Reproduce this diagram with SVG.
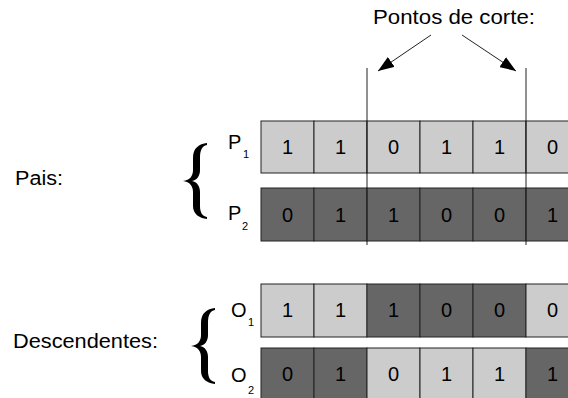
<svg xmlns="http://www.w3.org/2000/svg" width="568" height="398" viewBox="0 0 568 398">
  <style>
    text { font-family: "Liberation Sans", Arial, sans-serif; fill: #000; }
    .lbl { font-size: 20px; }
    .bit { font-size: 20px; text-anchor: middle; }
    .sub { font-size: 11px; }
    .light { fill: #cccccc; stroke: #222; stroke-width: 1; }
    .dark { fill: #666666; stroke: #222; stroke-width: 1; }
    .cut { stroke: #222; stroke-width: 1; fill: none; }
    .brace { fill: #000; stroke: none; }
  </style>
  <defs>
    <marker id="arrowBig" viewBox="0 0 16 12" refX="16" refY="6" markerWidth="16" markerHeight="12" markerUnits="userSpaceOnUse" orient="auto">
      <path d="M0,0 L16,6 L0,12 z" fill="#000"/>
    </marker>
    <!-- curly brace shape, top tip at (207,143) -->
    <path id="brace" d="M207,143 C199,144 193,148 193,158 L193,170 C193,176 190,180 183,181 C190,182 193,186 193,192 L193,206 C193,214 199,218 207,219 L207,217 C202,216 200,212 200,206 L200,192 C200,186 197,182 192,181 C197,180 200,176 200,170 L200,158 C200,150 202,146 207,145 Z"/>
  </defs>

  <!-- heading for the crossover points -->
  <text class="lbl" x="373" y="24" textLength="162" lengthAdjust="spacingAndGlyphs">Pontos de corte:</text>

  <!-- group labels -->
  <text class="lbl" x="15" y="185" textLength="48" lengthAdjust="spacingAndGlyphs">Pais:</text>
  <text class="lbl" x="13" y="348" textLength="145" lengthAdjust="spacingAndGlyphs">Descendentes:</text>

  <!-- braces -->
  <use href="#brace" class="brace"/>
  <use href="#brace" class="brace" transform="translate(8,165)"/>

  <!-- parent 1 -->
  <g id="P1">
    <text x="228" y="149" font-size="20">P</text>
    <text class="sub" x="243" y="158">1</text>
    <rect class="light" x="261" y="121" width="53" height="52"/>
    <rect class="light" x="314" y="121" width="53" height="52"/>
    <rect class="light" x="367" y="121" width="53" height="52"/>
    <rect class="light" x="420" y="121" width="53" height="52"/>
    <rect class="light" x="473" y="121" width="53" height="52"/>
    <rect class="light" x="526" y="121" width="53" height="52"/>
    <text class="bit" x="287.5" y="154">1</text>
    <text class="bit" x="340.5" y="154">1</text>
    <text class="bit" x="393.5" y="154">0</text>
    <text class="bit" x="446.5" y="154">1</text>
    <text class="bit" x="499.5" y="154">1</text>
    <text class="bit" x="552.5" y="154">0</text>
  </g>

  <!-- parent 2 -->
  <g id="P2">
    <text x="228" y="220" font-size="20">P</text>
    <text class="sub" x="242" y="230">2</text>
    <rect class="dark" x="261" y="188" width="53" height="53"/>
    <rect class="dark" x="314" y="188" width="53" height="53"/>
    <rect class="dark" x="367" y="188" width="53" height="53"/>
    <rect class="dark" x="420" y="188" width="53" height="53"/>
    <rect class="dark" x="473" y="188" width="53" height="53"/>
    <rect class="dark" x="526" y="188" width="53" height="53"/>
    <text class="bit" x="287.5" y="222">0</text>
    <text class="bit" x="340.5" y="222">1</text>
    <text class="bit" x="393.5" y="222">1</text>
    <text class="bit" x="446.5" y="222">0</text>
    <text class="bit" x="499.5" y="222">0</text>
    <text class="bit" x="552.5" y="222">1</text>
  </g>

  <!-- offspring 1 -->
  <g id="O1">
    <text x="231" y="317" font-size="20">O</text>
    <text class="sub" x="248" y="326">1</text>
    <rect class="light" x="261" y="284" width="53" height="53"/>
    <rect class="light" x="314" y="284" width="53" height="53"/>
    <rect class="dark" x="367" y="284" width="53" height="53"/>
    <rect class="dark" x="420" y="284" width="53" height="53"/>
    <rect class="dark" x="473" y="284" width="53" height="53"/>
    <rect class="light" x="526" y="284" width="53" height="53"/>
    <text class="bit" x="287.5" y="317">1</text>
    <text class="bit" x="340.5" y="317">1</text>
    <text class="bit" x="393.5" y="317">1</text>
    <text class="bit" x="446.5" y="317">0</text>
    <text class="bit" x="499.5" y="317">0</text>
    <text class="bit" x="552.5" y="317">0</text>
  </g>

  <!-- offspring 2 -->
  <g id="O2">
    <text x="231" y="382" font-size="20">O</text>
    <text class="sub" x="248" y="394">2</text>
    <rect class="dark" x="261" y="348" width="53" height="53"/>
    <rect class="dark" x="314" y="348" width="53" height="53"/>
    <rect class="light" x="367" y="348" width="53" height="53"/>
    <rect class="light" x="420" y="348" width="53" height="53"/>
    <rect class="light" x="473" y="348" width="53" height="53"/>
    <rect class="dark" x="526" y="348" width="53" height="53"/>
    <text class="bit" x="287.5" y="381">0</text>
    <text class="bit" x="340.5" y="381">1</text>
    <text class="bit" x="393.5" y="381">0</text>
    <text class="bit" x="446.5" y="381">1</text>
    <text class="bit" x="499.5" y="381">1</text>
    <text class="bit" x="552.5" y="381">1</text>
  </g>

  <!-- cut lines and pointers -->
  <g id="connectors">
    <line class="cut" x1="367" y1="68" x2="367" y2="245"/>
    <line class="cut" x1="526" y1="68" x2="526" y2="245"/>
    <line class="cut" x1="431" y1="35" x2="378" y2="71" marker-end="url(#arrowBig)"/>
    <line class="cut" x1="462" y1="35" x2="516" y2="71" marker-end="url(#arrowBig)"/>
  </g>
</svg>
